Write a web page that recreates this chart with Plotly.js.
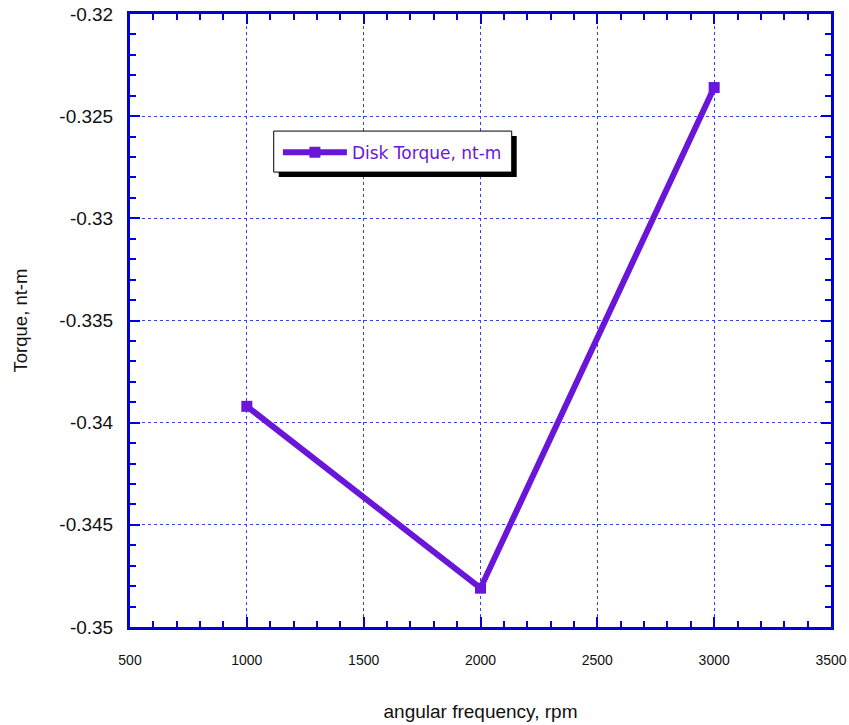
<!DOCTYPE html>
<html>
<head>
<meta charset="utf-8">
<script src="https://cdn.plot.ly/plotly-3.0.1.min.js"></script>
<style>html,body{margin:0;padding:0;background:#fff;}#chart{width:849px;height:725px;}</style>
</head>
<body>
<div id="chart"></div>
<script>
const rpm = [1000, 2000, 3000];
const diskTorque = [-0.3392, -0.3481, -0.3236];
const seriesName = 'Disk Torque, nt-m';
const xTitle = 'angular frequency, rpm';
const yTitle = 'Torque, nt-m';
const xTickVals = [500, 1000, 1500, 2000, 2500, 3000, 3500];
const yTickVals = [-0.35, -0.345, -0.34, -0.335, -0.33, -0.325, -0.32];
const yTickText = ['-0.35', '-0.345', '-0.34', '-0.335', '-0.33', '-0.325', '-0.32'];

const purple = '#6a16d8';
const blue = '#0000dd';
const textFont = 'Liberation Sans, Arial, sans-serif';

const trace = {
  x: rpm, y: diskTorque, name: seriesName, type: 'scatter', mode: 'lines+markers',
  line: {color: purple, width: 6},
  marker: {symbol: 'square', size: 11, color: purple}
};

const axisBase = {
  showline: true, linecolor: blue, linewidth: 3, mirror: 'ticks',
  ticks: 'inside', ticklen: 10, tickwidth: 2, tickcolor: blue,
  showgrid: true, gridcolor: '#3344ee', gridwidth: 1, griddash: 'dot',
  zeroline: false
};

const legX = 0.205, legY = 0.809;

const layout = {
  width: 849, height: 725,
  margin: {l: 130, r: 18, t: 14, b: 98},
  paper_bgcolor: '#fff', plot_bgcolor: '#fff',
  showlegend: true,
  xaxis: Object.assign({}, axisBase, {
    range: [500, 3500], tickvals: xTickVals, ticklabelstandoff: 18,
    minor: {dtick: 100, ticks: 'inside', ticklen: 6, tickwidth: 2, tickcolor: blue, showgrid: false},
    tickfont: {family: textFont, size: 14, color: '#111'},
    title: {text: xTitle, standoff: 38, font: {family: textFont, size: 19, color: '#111'}}
  }),
  yaxis: Object.assign({}, axisBase, {
    range: [-0.35, -0.32], tickvals: yTickVals, ticktext: yTickText, ticklabelstandoff: 10,
    minor: {dtick: 0.001, ticks: 'inside', ticklen: 6, tickwidth: 2, tickcolor: blue, showgrid: false},
    tickfont: {family: textFont, size: 19, color: '#111'},
    title: {text: yTitle, standoff: 27, font: {family: textFont, size: 18.5, color: '#111'}}
  }),
  legend: {
    x: legX + 0.006, y: 0.803, xanchor: 'left', yanchor: 'top',
    bgcolor: 'rgba(0,0,0,0)', borderwidth: 0,
    font: {family: 'DejaVu Sans, sans-serif', size: 17, color: purple},
    itemwidth: 64
  },
  shapes: [
    {
      type: 'rect', layer: 'above', xref: 'paper', yref: 'paper',
      xsizemode: 'pixel', ysizemode: 'pixel', xanchor: legX, yanchor: legY,
      x0: 5, x1: 243, y0: -5, y1: -46,
      fillcolor: '#000', line: {width: 0}
    },
    {
      type: 'rect', layer: 'above', xref: 'paper', yref: 'paper',
      xsizemode: 'pixel', ysizemode: 'pixel', xanchor: legX, yanchor: legY,
      x0: 0, x1: 238, y0: 0, y1: -41,
      fillcolor: '#fff', line: {width: 1, color: '#000'}
    }
  ]
};

Plotly.newPlot('chart', [trace], layout, {displayModeBar: false, staticPlot: true});
</script>
</body>
</html>
